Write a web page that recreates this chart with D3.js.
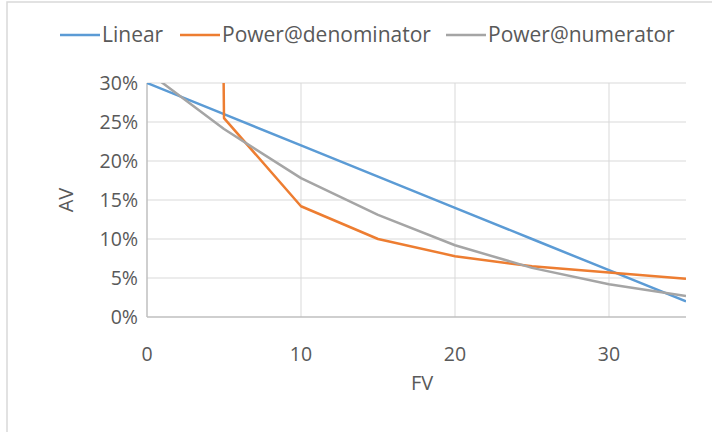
<!DOCTYPE html>
<html lang="en">
<head>
<meta charset="UTF-8">
<title>AV vs FV</title>
<script src="https://d3js.org/d3.v7.min.js"></script>
<style>
  body { margin: 0; background: #fff; font-family: "Open Sans", sans-serif; }
  text { fill: #595959; }
  .grid line { stroke: #d9d9d9; stroke-width: 1; }
  .tick-label { font-size: 19.5px; }
  .legend-label { font-size: 21px; }
  .axis-title { font-size: 20px; }
</style>
</head>
<body>
<svg id="chart" width="712" height="432"></svg>
<script>
// data
const fv = [0, 5, 10, 15, 20, 25, 30, 35];
const linear = [0.30, 0.26, 0.22, 0.18, 0.14, 0.10, 0.06, 0.02];
// value at FV=0 is off the chart (denominator goes to zero)
const powerDenominator = [10, 0.255, 0.142, 0.100, 0.078, 0.065, 0.057, 0.049];
const powerNumerator = [0.315, 0.241, 0.178, 0.131, 0.092, 0.063, 0.042, 0.027];

const seriesNames = ["Linear", "Power@denominator", "Power@numerator"];
const seriesColors = ["#5b9bd5", "#ed7d31", "#a5a5a5"];
const seriesValues = [linear, powerDenominator, powerNumerator];

const xTicks = [0, 10, 20, 30];
const yTicks = [0, 0.05, 0.10, 0.15, 0.20, 0.25, 0.30];

const svg = d3.select("#chart");

// chart frame
svg.append("rect")
    .attr("x", 7).attr("y", 2)
    .attr("width", 720).attr("height", 440)
    .attr("fill", "none")
    .attr("stroke", "#d9d9d9")
    .attr("stroke-width", 1.5);

const x = d3.scaleLinear().domain([0, 35]).range([147, 686]);
const y = d3.scaleLinear().domain([0, 0.30]).range([317, 83]);

// gridlines
const grid = svg.append("g").attr("class", "grid");
grid.selectAll(".hgrid")
    .data(yTicks.filter(d => d > 0))
    .enter().append("line")
    .attr("x1", x(0)).attr("x2", x(35))
    .attr("y1", d => y(d)).attr("y2", d => y(d));
grid.selectAll(".vgrid")
    .data(xTicks.filter(d => d > 0))
    .enter().append("line")
    .attr("x1", d => x(d)).attr("x2", d => x(d))
    .attr("y1", y(0)).attr("y2", y(0.30));

// axis lines
svg.append("line")
    .attr("x1", x(0)).attr("x2", x(0))
    .attr("y1", y(0)).attr("y2", y(0.30))
    .attr("stroke", "#bfbfbf").attr("stroke-width", 1.5);
svg.append("line")
    .attr("x1", x(0)).attr("x2", x(35))
    .attr("y1", y(0)).attr("y2", y(0))
    .attr("stroke", "#bfbfbf").attr("stroke-width", 1.5);

// tick labels
svg.selectAll(".ylab")
    .data(yTicks)
    .enter().append("text")
    .attr("class", "tick-label")
    .attr("x", 138)
    .attr("y", d => y(d))
    .attr("dy", "0.35em")
    .attr("text-anchor", "end")
    .text(d3.format(".0%"));

svg.selectAll(".xlab")
    .data(xTicks)
    .enter().append("text")
    .attr("class", "tick-label")
    .attr("x", d => x(d))
    .attr("y", 354)
    .attr("dy", "0.35em")
    .attr("text-anchor", "middle")
    .text(d => d);

// axis titles
svg.append("text")
    .attr("class", "axis-title")
    .attr("transform", "translate(66,200) rotate(-90)")
    .attr("dy", "0.35em")
    .attr("text-anchor", "middle")
    .text("AV");
svg.append("text")
    .attr("class", "axis-title")
    .attr("x", 422).attr("y", 383)
    .attr("dy", "0.35em")
    .attr("text-anchor", "middle")
    .text("FV");

// lines, clipped to the plot area
svg.append("clipPath").attr("id", "plot-clip")
    .append("rect")
    .attr("x", x(0)).attr("y", y(0.30))
    .attr("width", x(35) - x(0)).attr("height", y(0) - y(0.30));

const line = d3.line()
    .x((d, i) => x(fv[i]))
    .y(d => y(d));

svg.append("g").attr("clip-path", "url(#plot-clip)")
    .selectAll("path")
    .data(seriesValues)
    .enter().append("path")
    .attr("d", line)
    .attr("fill", "none")
    .attr("stroke", (d, i) => seriesColors[i])
    .attr("stroke-width", 2.5)
    .attr("stroke-linejoin", "round");

// legend
const legendX = [60, 180, 446];
const legend = svg.selectAll(".legend")
    .data(seriesNames)
    .enter().append("g")
    .attr("transform", (d, i) => `translate(${legendX[i]},35)`);
legend.append("line")
    .attr("x1", 0).attr("x2", 40)
    .attr("stroke", (d, i) => seriesColors[i])
    .attr("stroke-width", 2.5);
legend.append("text")
    .attr("class", "legend-label")
    .attr("x", 42)
    .attr("dy", "0.35em")
    .text(d => d);
</script>
</body>
</html>
